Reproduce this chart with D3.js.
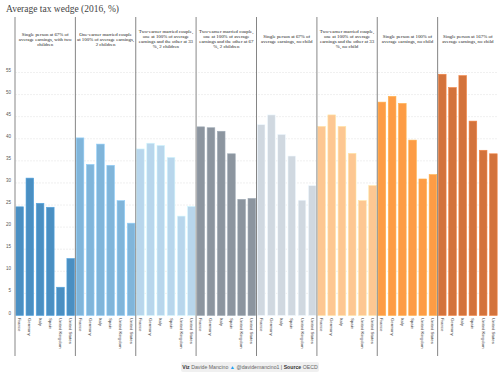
<!DOCTYPE html>
<html>
<head>
<meta charset="utf-8">
<script src="https://cdn.jsdelivr.net/npm/d3@7"></script>
<style>
  body { margin: 0; background: #fff; }
  svg { display: block; }
  .grid line { stroke: #ececec; stroke-dasharray: 2,1; stroke-width: 0.8; }
  .ylab { font-family: 'Liberation Sans', sans-serif; font-size: 4.5px; fill: #555; }
  .xlab { font-family: 'Liberation Sans', sans-serif; font-size: 4.3px; fill: #333; }
  .ptitle { font-family: 'Liberation Serif', serif; font-size: 4.9px; fill: #222; }
</style>
</head>
<body>
<div id="chart"></div>
<script>
'use strict';

const countries = ['France', 'Germany', 'Italy', 'Spain', 'United Kingdom', 'United States'];

const panelTitles = [
  ['Single person at 67% of', 'average earnings, with two', 'children'],
  ['One-earner married couple', 'at 100% of average earnings,', '2 children'],
  ['Two-earner married couple,', 'one at 100% of average', 'earnings and the other at 33', '%, 2 children'],
  ['Two-earner married couple,', 'one at 100% of average', 'earnings and the other at 67', '%, 2 children'],
  ['Single person at 67% of', 'average earnings, no child'],
  ['Two-earner married couple,', 'one at 100% of average', 'earnings and the other at 33', '%, no child'],
  ['Single person at 100% of', 'average earnings, no child'],
  ['Single person at 167% of', 'average earnings, no child']
];

// values per panel, in the order of countries
const single67Kids    = [24.6, 31.1, 25.4, 24.5, 6.4, 12.9];
const oneEarner100    = [40.2, 34.2, 38.8, 34.0, 26.0, 20.9];
const twoEarner33Kids = [37.7, 39.0, 38.5, 35.8, 22.5, 24.7];
const twoEarner67Kids = [42.7, 42.5, 41.7, 36.6, 26.3, 26.5];
const single67        = [43.2, 45.4, 41.0, 36.1, 26.1, 29.4];
const twoEarner33     = [42.8, 45.4, 42.8, 36.7, 26.0, 29.4];
const single100       = [48.3, 49.6, 48.0, 39.7, 30.9, 31.9];
const single167       = [54.6, 51.6, 54.3, 44.0, 37.4, 36.6];

const yTicks = [0, 5, 10, 15, 20, 25, 30, 35, 40, 45, 50, 55];

const panelColors = ['#4a8fc2', '#80b5da', '#b8d6ec', '#8c959f', '#d0d8e0', '#fdc792', '#fd9c45', '#d3733c'];

const series = [single67Kids, oneEarner100, twoEarner33Kids, twoEarner67Kids, single67, twoEarner33, single100, single167];

const W = 500, H = 375;
const left = 15, right = 498;
const panelW = (right - left) / series.length;

const $svg = d3.select('#chart').append('svg').attr('width', W).attr('height', H);

// title
$svg.append('text')
  .attr('x', 6).attr('y', 12)
  .attr('font-family', 'Liberation Serif, serif')
  .attr('font-size', 9.5)
  .attr('fill', '#444')
  .text('Average tax wedge (2016, %)');

const y = d3.scaleLinear().domain([0, 55]).range([315.5, 72.5]);
const px = d3.scaleBand().domain(d3.range(series.length)).range([left, right]);

// grid
$svg.append('g').attr('class', 'grid').selectAll('line')
  .data(yTicks.filter((d) => d > 0))
  .enter().append('line')
  .attr('x1', left).attr('x2', right)
  .attr('y1', (d) => y(d)).attr('y2', (d) => y(d));

$svg.append('g').selectAll('.ylab')
  .data(yTicks)
  .enter().append('text')
  .attr('class', 'ylab')
  .attr('x', 11).attr('y', (d) => y(d) - 1)
  .attr('text-anchor', 'end')
  .text((d) => d);

const $panels = $svg.append('g').selectAll('.panel')
  .data(series)
  .enter().append('g')
  .attr('class', 'panel')
  .attr('transform', (d, i) => 'translate(' + px(i) + ',0)');

const x = d3.scaleBand().domain(countries).range([0, panelW]).paddingInner(0.25).paddingOuter(0.08);
const lightSep = [0, 3, 5];

$panels.each(function(vals, i) {
  const $p = d3.select(this);
  const col = d3.color(panelColors[i]);
  $p.selectAll('rect')
    .data(vals.map((v, k) => ({ c: countries[k], v: v })))
    .enter().append('rect')
    .attr('x', (d) => x(d.c))
    .attr('y', (d) => y(d.v))
    .attr('width', x.bandwidth())
    .attr('height', (d) => y(0) - y(d.v))
    .attr('fill', col.formatHex())
    .attr('stroke', col.brighter(0.4).formatHex())
    .attr('stroke-width', 0.6);

  $p.selectAll('.xlab')
    .data(countries)
    .enter().append('text')
    .attr('class', 'xlab')
    .attr('transform', (d) => 'translate(' + (x(d) + x.bandwidth() / 2 - 1.5) + ',318) rotate(90)')
    .text((d) => d);

  const lines = panelTitles[i];
  const t = $p.append('text')
    .attr('class', 'ptitle')
    .attr('text-anchor', 'middle');
  lines.forEach((ln, k) => {
    t.append('tspan')
      .attr('x', panelW / 2)
      .attr('y', (lines.length > 3 ? 33 : (lines.length === 2 ? 38 : 36)) + k * 5)
      .text(ln);
  });

  const light = lightSep.indexOf(i) >= 0;
  $p.append('line')
    .attr('x1', 0).attr('x2', 0)
    .attr('y1', 17).attr('y2', 356)
    .attr('stroke', light ? '#aaa' : '#666')
    .attr('stroke-width', light ? 1.4 : 0.8);
});

// footer
const $foot = $svg.append('g').attr('transform', 'translate(181,362)');
$foot.append('rect')
  .attr('width', 138).attr('height', 10).attr('rx', 2)
  .attr('fill', '#f0f0f0');
const ft = $foot.append('text')
  .attr('x', 69).attr('y', 6.8)
  .attr('text-anchor', 'middle')
  .attr('font-family', 'Liberation Sans, sans-serif')
  .attr('font-size', 5.2)
  .attr('fill', '#666');
ft.append('tspan').attr('font-weight', 'bold').attr('fill', '#333').text('Viz ');
ft.append('tspan').text('Davide Mancino ');
ft.append('tspan').attr('fill', '#1da1f2').text('\u25B2 ');
ft.append('tspan').text('@davidemancino1 | ');
ft.append('tspan').attr('font-weight', 'bold').attr('fill', '#333').text('Source ');
ft.append('tspan').text('OECD');
</script>
</body>
</html>
